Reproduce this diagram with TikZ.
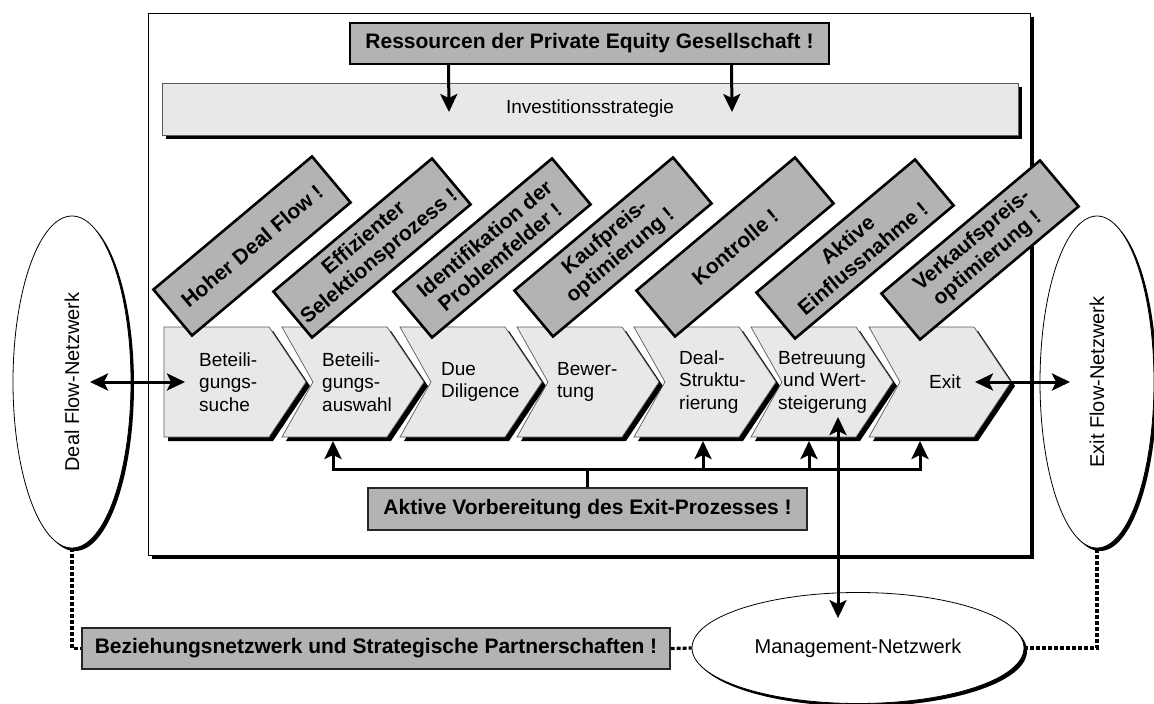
\documentclass[tikz,border=0pt]{standalone}
\usepackage{fontspec}
\setmainfont{Liberation Sans}
\usetikzlibrary{arrows.meta,shapes.geometric,shadows}

\definecolor{kistenGrau}{HTML}{B3B3B3}
\definecolor{phasenGrau}{HTML}{E8E8E8}
\definecolor{randGrau}{HTML}{5A5A5A}

\begin{document}
\begin{tikzpicture}[x=1pt, y=-1pt,
    schatten/.style={drop shadow={shadow xshift=4pt, shadow yshift=-4pt, fill=black, opacity=1}},
    kiste/.style={fill=kistenGrau, draw=black!85, line width=1.4pt, inner sep=0pt,
      font=\fontsize{21}{24}\selectfont\bfseries},
    ziel/.style={kiste, draw=black, line width=2.6pt, rotate=40,
      minimum width=207pt, minimum height=60pt, align=center},
    phase/.style={fill=phasenGrau, draw=randGrau, line width=0.7pt, schatten},
    netz/.style={ellipse, draw=black, line width=0.8pt, fill=white, inner sep=0pt,
      drop shadow={shadow xshift=3pt, shadow yshift=-3pt, fill=black, opacity=1},
      font=\fontsize{20}{24}\selectfont},
    txt/.style={font=\fontsize{19}{22.5}\selectfont, inner sep=0pt, align=left},
    pfeil/.style={line width=3pt, -{Stealth[length=18pt,width=17pt,inset=4pt]}},
    doppelpfeil/.style={line width=3pt,
      {Stealth[length=18pt,width=17pt,inset=4pt]}-{Stealth[length=18pt,width=17pt,inset=4pt]}},
    punkt/.style={draw=black, line width=3.2pt, dash pattern=on 4pt off 2pt}]
  \useasboundingbox (0,0) rectangle (1154,704);

  % outer frame of the private equity firm
  \draw[draw=black, line width=1pt, fill=white, schatten] (148,13) rectangle (1030,555);

  % resources and strategy
  \node[fill=phasenGrau, draw=randGrau, line width=0.7pt, schatten, inner sep=0pt,
    minimum width=856pt, minimum height=52pt, font=\fontsize{19}{22}\selectfont]
    (strat) at (590,109) {Investitionsstrategie};
  \node[kiste, draw=black, line width=1.8pt, minimum width=479pt, minimum height=41pt]
    (res) at (589.5,43.5) {Ressourcen der Private Equity Gesellschaft !};
  \draw[pfeil] ([xshift=-141pt]res.south) -- ([xshift=-141pt,yshift=-3pt]strat.center);
  \draw[pfeil] ([xshift=142pt]res.south) -- ([xshift=142pt,yshift=-3pt]strat.center);

  % process chevrons
  \foreach \i/\x/\k in {1/164/0, 2/282/31, 3/400/31, 4/517/31, 5/634/31, 6/751/31, 7/869/31} {
    \draw[phase] (\x,327) -- ++(105,0) -- ++(37,55) -- ++(-37,55) -- ++(-105,0) -- ++(\k,-55) -- cycle;
    \coordinate (c\i) at (\x,437);
  }
  \node[txt, anchor=west] (p1) at (199,382) {Beteili-\\gungs-\\suche};
  \node[txt, anchor=west] (p2) at (322,382) {Beteili-\\gungs-\\auswahl};
  \node[txt, anchor=west] (p3) at (441,382) {Due\\Diligence};
  \node[txt, anchor=west] (p4) at (557,382) {Bewer-\\tung};
  \node[txt, anchor=west] (p5) at (679,382) {Deal-\\Struktu-\\rierung};
  \node[txt, anchor=west] (p6) at (778,382) {Betreuung\\\hspace*{5pt}und Wert-\\steigerung};
  \node[txt] (p7) at (945,382) {Exit};

  % success factors per phase
  \foreach \x/\y/\t [count=\i] in {252/246/{Hoher Deal Flow !},
      372/248/{Effizienter\\Selektionsprozess !},
      492/248/{Identifikation der\\Problemfelder !},
      613/247/{Kaufpreis-\\optimierung !},
      735/247/{Kontrolle !},
      855/249/{Aktive\\Einflussnahme !},
      980/250/{Verkaufspreis-\\optimierung !}}
    \node[ziel] (z\i) at (\x,\y) {\t};

  % exit preparation feeding back into the phases
  \node[kiste, minimum width=439pt, minimum height=42pt]
    (vorb) at (587.5,509) {Aktive Vorbereitung des Exit-Prozesses !};
  \coordinate (bus) at ([yshift=18pt]vorb.north);
  \draw[line width=3pt] (vorb.north) -- (bus);
  \foreach \ph/\dx in {c2/51, c5/69, c6/58, c7/51}
    \draw[pfeil] (bus) -| ([xshift=\dx pt,yshift=-4pt]\ph);

  % networks
  \node[netz, minimum width=118pt, minimum height=332pt] (deal) at (72,382) {};
  \node[font=\fontsize{20}{24}\selectfont, rotate=90] (dealtxt) at (deal.center) {Deal Flow-Netzwerk};
  \node[netz, minimum width=114pt, minimum height=332pt] (exitnet) at (1097,382) {};
  \node[font=\fontsize{20}{24}\selectfont, rotate=90] (exittxt) at (exitnet.center) {Exit Flow-Netzwerk};
  \node[netz, minimum width=332pt, minimum height=111pt] (mgmt) at (858,648) {Management-Netzwerk};
  \node[kiste, minimum width=588pt, minimum height=41pt]
    (bez) at (376,648.5) {Beziehungsnetzwerk und Strategische Partnerschaften !};

  \draw[doppelpfeil] ([xshift=18pt]deal.center) -- ([xshift=21pt,yshift=55pt]c1);
  \draw[doppelpfeil] ([xshift=106pt,yshift=55pt]c7) -- ([xshift=-27pt]exitnet.center);
  \draw[doppelpfeil] ([xshift=87pt,yshift=20pt]c6) -- ([xshift=-20pt,yshift=-26pt]mgmt.north);

  % dotted links between the networks
  \draw[punkt] (deal.south) |- (bez.west);
  \draw[punkt] (bez.east) -- (mgmt.west);
  \draw[punkt] (mgmt.east) -| (exitnet.south);
\end{tikzpicture}
\end{document}
